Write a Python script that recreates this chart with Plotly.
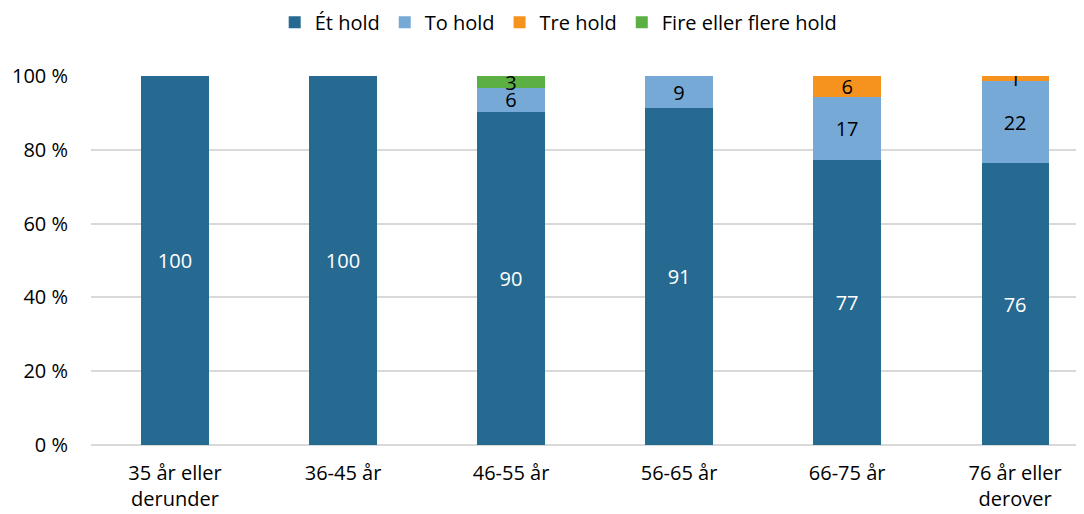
import plotly.graph_objects as go

categories = ["35 år eller<br>derunder", "36-45 år", "46-55 år", "56-65 år", "66-75 år", "76 år eller<br>derover"]
et_hold = [100, 100, 90.3, 91.3, 77.3, 76.4]
to_hold = [0, 0, 6.4, 8.7, 17.0, 22.2]
tre_hold = [0, 0, 0, 0, 5.7, 1.4]
fire_hold = [0, 0, 3.3, 0, 0, 0]

series = [
    ("Ét hold", et_hold, "#276a91", "white"),
    ("To hold", to_hold, "#77a9d6", "black"),
    ("Tre hold", tre_hold, "#f6921e", "black"),
    ("Fire eller flere hold", fire_hold, "#5cb043", "black"),
]

FONT = "Open Sans"
FS = 20
fig = go.Figure()
for name, vals, color, tcolor in series:
    fig.add_trace(go.Bar(
        name=name, x=categories, y=vals,
        marker=dict(color=color, line=dict(width=0)),
        text=[f"{v:.0f}" if v > 0 else "" for v in vals],
        textposition="inside", insidetextanchor="middle", textangle=0,
        textfont=dict(color=tcolor, size=FS, family=FONT),
        width=0.4, hoverinfo="skip",
    ))

fig.update_layout(
    barmode="stack",
    width=1076, height=506,
    margin=dict(l=83, r=0, t=68, b=69, autoexpand=False),
    plot_bgcolor="white", paper_bgcolor="white",
    font=dict(family=FONT, size=FS, color="black"),
    uniformtext=dict(mode="show", minsize=FS),
    legend=dict(orientation="h", x=0.471, xanchor="center", y=1.146, yanchor="middle",
                font=dict(size=FS), traceorder="normal"),
    showlegend=True,
)
fig.update_xaxes(range=[-0.5, 5.41], showgrid=False, showline=False, ticks="",
                 tickfont=dict(size=FS), automargin=False, ticklabelstandoff=14)
fig.update_yaxes(range=[0, 100], tickvals=[0, 20, 40, 60, 80, 100],
                 ticktext=["0 %", "20 %", "40 %", "60 %", "80 %", "100 %"],
                 showgrid=True, gridcolor="#d9d9d9", gridwidth=1.5,
                 zeroline=True, zerolinecolor="#d9d9d9", zerolinewidth=1.5,
                 ticks="", ticklabelstandoff=22, tickfont=dict(size=FS), automargin=False)
fig.write_html("out.html")
